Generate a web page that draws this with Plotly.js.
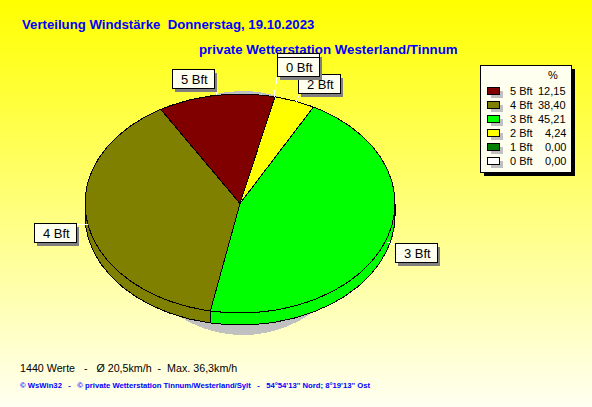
<!DOCTYPE html>
<html>
<head>
<meta charset="utf-8">
<script src="https://cdn.plot.ly/plotly-3.0.1.min.js"></script>
<style>
html,body{margin:0;padding:0;width:592px;height:407px;overflow:hidden;}
body{background:linear-gradient(to bottom,#ffff00 0%,#fffff2 100%);}
#chart{width:592px;height:407px;}
#chart path{shape-rendering:crispEdges;}
</style>
</head>
<body>
<div id="chart"></div>
<script>
// --- data ---
const categories = ['5 Bft','4 Bft','3 Bft','2 Bft','1 Bft','0 Bft'];
const percent    = [12.15, 38.40, 45.21, 4.24, 0.00, 0.00];
const percentText= ['12,15','38,40','45,21','4,24','0,00','0,00'];
const sliceColors= ['#800000','#808000','#00ff00','#ffff00','#008000','#ffffff'];

const title1 = 'Verteilung Windstärke\u00a0\u00a0Donnerstag, 19.10.2023';
const title2 = 'private Wetterstation Westerland/Tinnum';
const footer1 = '1440 Werte\u00a0\u00a0\u00a0-\u00a0\u00a0\u00a0Ø 20,5km/h\u00a0\u00a0-\u00a0\u00a0Max. 36,3km/h';
const footer2 = '© WsWin32\u00a0\u00a0\u00a0-\u00a0\u00a0\u00a0© private Wetterstation Tinnum/Westerland/Sylt\u00a0\u00a0\u00a0-\u00a0\u00a0\u00a054°54\'13\'\' Nord; 8°19\'13\'\' Ost';

// --- layout geometry ---
const W=592,H=407;
const cx=240,cy=203.5,rx=155,ry=109.5,depth=12,startDeg=13;
const labelBoxes=[ // drawing order: the later box covers the earlier one
  {t:'5 Bft',x:172,y:69,lead:[[216,91],[217,95]]},
  {t:'4 Bft',x:34,y:223,lead:[[76,224],[88,224]]},
  {t:'3 Bft',x:395,y:243,lead:[[395,245],[387,242]]},
  {t:'2 Bft',x:298,y:74,lead:[[300.5,93],[296,102]]},
  {t:'',x:277,y:53,lead:null},               // the 1 Bft box hidden behind 0 Bft
  {t:'0 Bft',x:277,y:57,lead:[[277,77],[274,97]]}
];

function pt(deg,dy){const a=deg*Math.PI/180;return [cx+rx*Math.sin(a),cy+(dy||0)-ry*Math.cos(a)];}
function arc(a0,a1,dy){ // sample from a0 to a1
  const n=Math.max(2,Math.ceil(Math.abs(a1-a0))),o=[];
  for(let i=0;i<=n;i++) o.push(pt(a0+(a1-a0)*i/n,dy));
  return o;
}
function poly(points,fill,w){
  const xs=points.map(p=>p[0]),ys=points.map(p=>p[1]);
  xs.push(xs[0]);ys.push(ys[0]);
  return {type:'scatter',mode:'lines',x:xs,y:ys,fill:'toself',fillcolor:fill,
    line:{color:'#000',width:w===undefined?1:w},hoverinfo:'skip'};
}

const traces=[];
// ground shadow
const shadow=[];
for(let d=0;d<360;d+=2){const a=d*Math.PI/180;shadow.push([243+120*Math.sin(a),213-122*Math.cos(a)]);}
traces.push(poly(shadow,'#c0c0c0',0));

// slice spans, counter-clockwise from startDeg
const total=percent.reduce((a,b)=>a+b,0);
let cur=startDeg;const spans=[];
percent.forEach((v,i)=>{const next=cur-v/total*360;spans.push({i,hi:cur,lo:next});cur=next;});

// side walls on the front half (90..270 degrees clockwise from top)
spans.forEach(s=>{
  if(s.hi-s.lo<=0) return;
  [0,360].forEach(off=>{
    const lo=Math.max(s.lo+off,90),hi=Math.min(s.hi+off,270);
    if(hi>lo){
      traces.push(poly(arc(lo,hi,0).concat(arc(hi,lo,depth)),sliceColors[s.i]));
    }
  });
});
// top faces
spans.forEach(s=>{
  if(s.hi-s.lo<=0) return;
  traces.push(poly([[cx,cy]].concat(arc(s.hi,s.lo,0)),sliceColors[s.i]));
});
// titles and footers under the shapes layer
function txt(x,y,s,size,color,bold){
  return {type:'scatter',mode:'text',x:[x],y:[y],text:[s],textposition:'middle right',cliponaxis:false,
    textfont:{family:'"Liberation Sans",Arial,sans-serif',size:size,color:color,weight:bold?700:400},hoverinfo:'skip'};
}
traces.push(txt(22,26,title1,13.2,'#0000ff',true));
traces.push(txt(199,50.5,title2,13.3,'#0000ff',true));
traces.push(txt(20,369,footer1,10.7,'#000000',false));
traces.push(txt(20,386,footer2,7.7,'#0000ff',true));

const shapes=[],annotations=[];
function rect(x0,y0,x1,y1,fill,line){
  shapes.push({type:'rect',xref:'x',yref:'y',x0,y0,x1,y1,fillcolor:fill,line:{color:line||fill,width:line?1:0},layer:'above'});
}
const font=(s,c)=>({family:'"Liberation Sans",Arial,sans-serif',size:s,color:c||'#000'});
function note(x,y,t,s,anchor){
  annotations.push({xref:'x',yref:'y',x,y,text:t,showarrow:false,font:font(s),xanchor:anchor||'left',yanchor:'middle',borderpad:0,borderwidth:0});
}
// pie labels
labelBoxes.forEach(b=>{
  if(b.lead) shapes.push({type:'line',xref:'x',yref:'y',x0:b.lead[0][0],y0:b.lead[0][1],x1:b.lead[1][0],y1:b.lead[1][1],line:{color:'#fff',width:1},layer:'above'});
  rect(b.x+3,b.y+4,b.x+45,b.y+23,'#808080');
  rect(b.x,b.y,b.x+42,b.y+19,'#fffff0','#000');
  if(b.t) note(b.x+22.5,b.y+10,b.t,13,'center');
});
// legend
rect(484,69,575,176,'#000000');
rect(480,65,571,172,'#fffff0','#000');
note(553,75,'%',11,'center');
categories.forEach((c,i)=>{
  const y=91+14*i;
  rect(491,y,503,y+7,'#c0c0c0');
  rect(487,y-4,499,y+3,sliceColors[i],'#000');
  note(510,y,c,11,'left');
  note(566,y,percentText[i],11,'right');
});

Plotly.newPlot('chart',traces,{
  width:W,height:H,margin:{l:0,r:0,t:0,b:0},
  paper_bgcolor:'rgba(0,0,0,0)',plot_bgcolor:'rgba(0,0,0,0)',
  showlegend:false,hovermode:false,
  xaxis:{range:[0,W],visible:false,fixedrange:true},
  yaxis:{range:[H,0],visible:false,fixedrange:true},
  shapes,annotations
},{displayModeBar:false,staticPlot:true});
</script>
</body>
</html>
